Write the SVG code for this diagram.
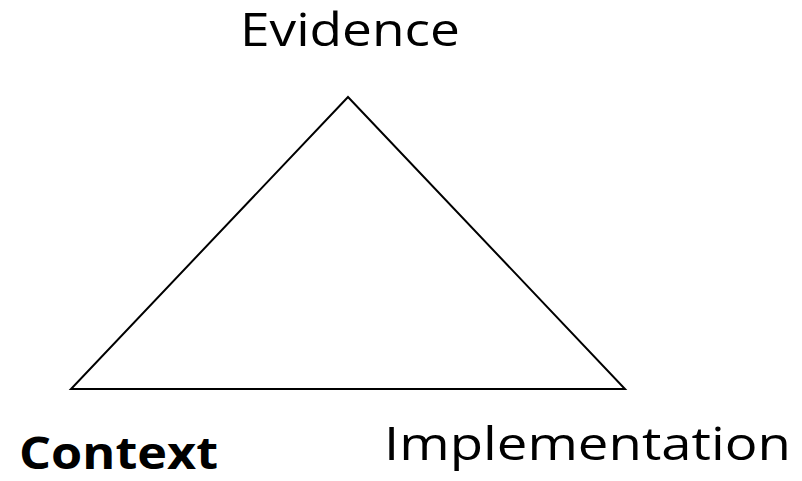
<svg xmlns="http://www.w3.org/2000/svg" width="802" height="481" viewBox="0 0 802 481">
<style>
.t{font-family:"Open Sans","Liberation Sans",sans-serif;fill:#000;font-size:45px}
</style>
<rect width="802" height="481" fill="#fff"/>
<g id="connectors">
<polygon points="348,97 71,389 625,389" fill="none" stroke="#000" stroke-width="2"/>
</g>
<g id="evidence"><text class="t" x="240" y="46" textLength="220" lengthAdjust="spacingAndGlyphs">Evidence</text></g>
<g id="context"><text class="t" x="19" y="469" font-weight="bold" textLength="199" lengthAdjust="spacingAndGlyphs">Context</text></g>
<g id="implementation"><text class="t" x="384" y="460" textLength="407" lengthAdjust="spacingAndGlyphs">Implementation</text></g>
</svg>
